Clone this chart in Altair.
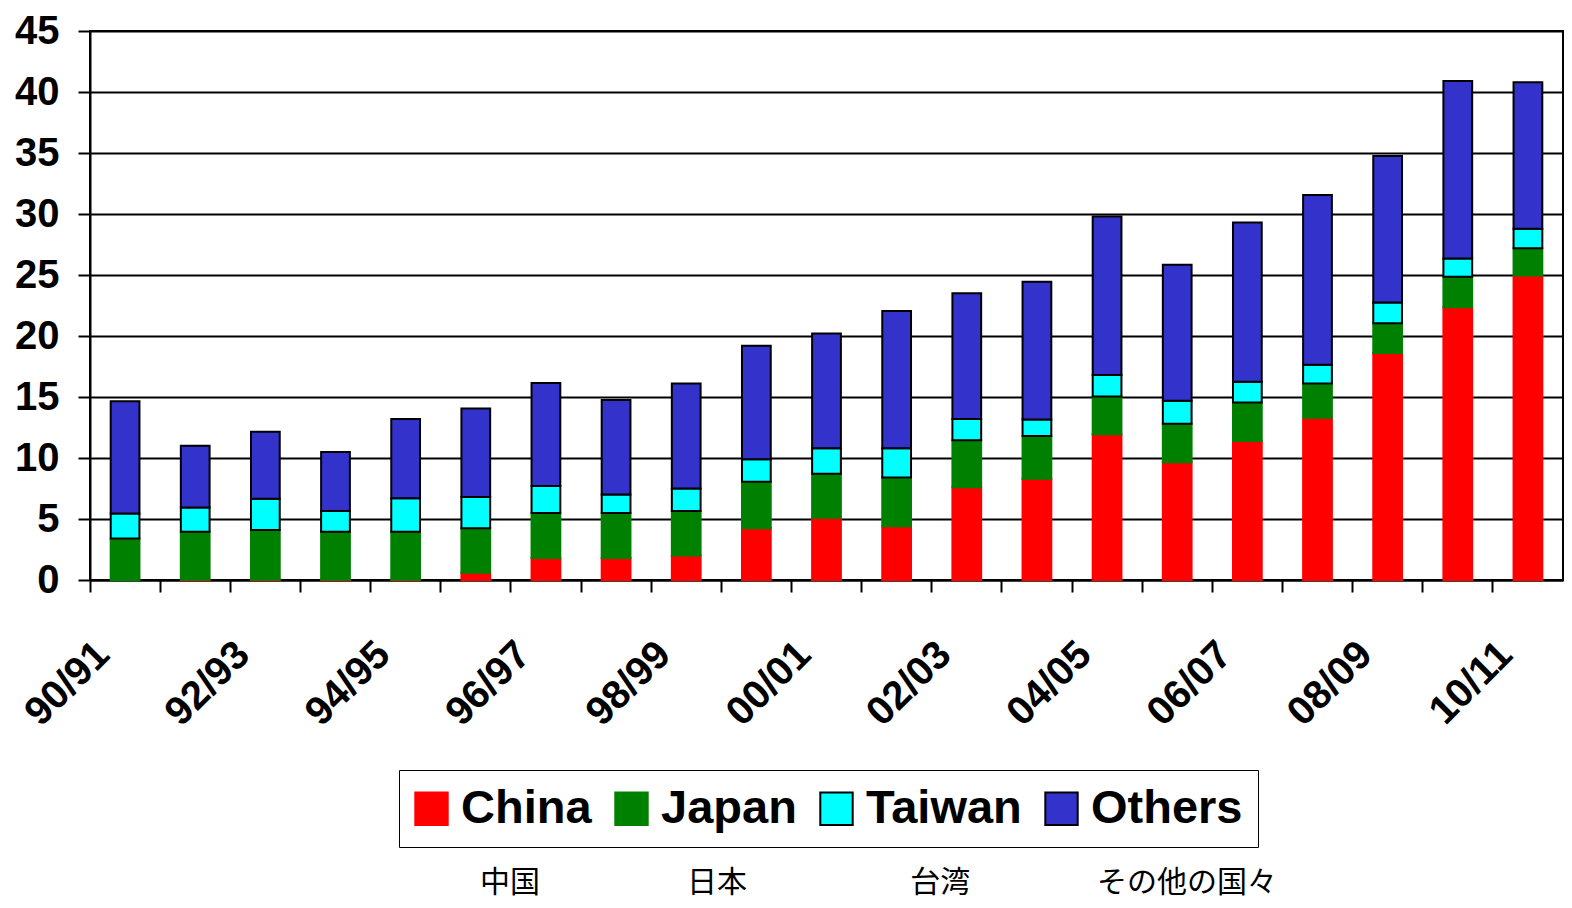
import json
import altair as alt
import pandas as pd

# ---------------- data ----------------
SEASONS = ["90/91", "91/92", "92/93", "93/94", "94/95", "95/96", "96/97",
           "97/98", "98/99", "99/00", "00/01", "01/02", "02/03", "03/04",
           "04/05", "05/06", "06/07", "07/08", "08/09", "09/10", "10/11"]
SHOWN_LABELS = ["90/91", "92/93", "94/95", "96/97", "98/99", "00/01",
                "02/03", "04/05", "06/07", "08/09", "10/11"]
SERIES = ["China", "Japan", "Taiwan", "Others"]
JP_NAMES = ["中国", "日本", "台湾", "その他の国々"]

CHINA = [0.0, 0.05, 0.05, 0.05, 0.05, 0.6, 1.8, 1.8, 2.0, 4.25, 5.1,
         4.4, 7.6, 8.3, 11.95, 9.65, 11.4, 13.3, 18.6, 22.35, 24.95]
JAPAN = [3.4, 3.9, 4.05, 3.9, 3.9, 3.65, 3.7, 3.7, 3.65, 3.8, 3.6,
         4.0, 3.85, 3.5, 3.1, 3.15, 3.15, 2.8, 2.45, 2.5, 2.25]
TAIWAN = [2.05, 2.0, 2.55, 1.7, 2.75, 2.55, 2.2, 1.5, 1.85, 1.85, 2.1,
          2.4, 1.75, 1.35, 1.75, 1.9, 1.7, 1.55, 1.7, 1.5, 1.6]
OTHERS = [9.2, 5.05, 5.5, 4.85, 6.5, 7.25, 8.45, 7.75, 8.6, 9.3, 9.4,
          11.25, 10.3, 11.3, 13.0, 11.15, 13.05, 13.9, 12.0, 14.55, 12.0]
Y_TICKS = [0, 5, 10, 15, 20, 25, 30, 35, 40, 45]

# ---------------- styles ----------------
FILLS = ["#FF0000", "#008000", "#00FFFF", "#3333CC"]
OUTLINES = ["#FF0000", "#008000", "#000000", "#000000"]
FONT = "Liberation Sans"
CJK = "Noto Sans CJK JP"

rows = []
for s_idx, (name, vals) in enumerate(zip(SERIES, [CHINA, JAPAN, TAIWAN, OTHERS])):
    for season, v in zip(SEASONS, vals):
        rows.append({"season": season, "series": name, "value": v, "order": s_idx})
df = pd.DataFrame(rows)

label_expr = (f"indexof({json.dumps(SHOWN_LABELS)}, datum.value) >= 0 "
              f"? datum.value : ''")

IDEO = "\u3000"
NB = "\u00a0"
gaps = [IDEO * 4 + NB * 4, IDEO * 5 + NB * 2, IDEO * 4 + NB * 1]
jp_text = JP_NAMES[0]
for g, n in zip(gaps, JP_NAMES[1:]):
    jp_text += g + n

legend = alt.Legend(
    title=None, orient="none", legendX=309, legendY=739,
    direction="horizontal", symbolType="square", symbolSize=1050,
    symbolStrokeWidth=2, symbolOffset=-6, labelFont=FONT, labelFontSize=47,
    labelFontWeight="bold", labelColor="black", padding=15,
    strokeColor="black", columnPadding=19, labelOffset=6,
    labelLimit=400,
)

chart = alt.Chart(df).mark_bar(width={"band": 0.41}, strokeWidth=2).encode(
    x=alt.X("season:N", sort=SEASONS, title=None,
            scale=alt.Scale(paddingInner=0, paddingOuter=0),
            axis=alt.Axis(labelExpr=label_expr, labelAngle=-45,
                          labelAlign="right", labelBaseline="middle",
                          labelPadding=56, labelOffset=-22,
                          bandPosition=0, labelFont=FONT, labelFontSize=40,
                          labelFontWeight="bold", grid=False,
                          labelOverlap=False)),
    y=alt.Y("value:Q", stack="zero", title=None,
            scale=alt.Scale(domain=[0, 45], nice=False),
            axis=alt.Axis(values=Y_TICKS, labelFont=FONT, labelFontSize=40,
                          labelFontWeight="bold", labelPadding=19,
                          grid=True)),
    fill=alt.Fill("series:N", scale=alt.Scale(domain=SERIES, range=FILLS),
                  legend=legend),
    stroke=alt.Stroke("series:N", scale=alt.Scale(domain=SERIES, range=OUTLINES),
                      legend=legend),
    order=alt.Order("order:Q", sort="ascending"),
).properties(
    width=1473, height=549,
    title=alt.TitleParams(text=jp_text, orient="bottom", anchor="start",
                          frame="group", dx=390, offset=44, font=CJK,
                          fontSize=30, fontWeight="normal", color="black",
                          align="left", baseline="alphabetic"),
    autosize=alt.AutoSizeParams(type="none"),
    padding={"left": 82, "top": 23, "right": 1, "bottom": 320},
    background="white",
).configure_view(
    stroke="black", strokeWidth=2
).configure_axis(
    domainColor="black", domainWidth=2, tickColor="black", tickWidth=2,
    tickSize=12, gridColor="black", gridWidth=2, gridOpacity=1,
    labelColor="black",
)

chart.save("out.html", embed_options={"renderer": "svg", "actions": False})
